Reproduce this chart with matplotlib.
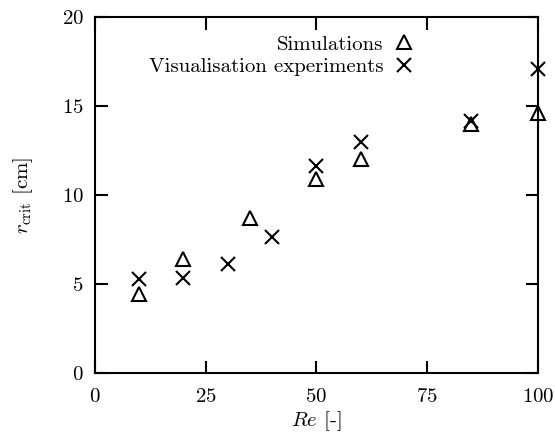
import matplotlib
matplotlib.use("Agg")
import matplotlib.pyplot as plt

re_sim = [10, 20, 35, 50, 60, 85, 100]
r_sim = [4.4, 6.4, 8.7, 10.9, 12.0, 14.0, 14.6]
re_exp = [10, 20, 30, 40, 50, 60, 85, 100]
r_exp = [5.25, 5.35, 6.1, 7.65, 11.6, 13.0, 14.15, 17.1]
xticks = [0, 25, 50, 75, 100]
yticks = [0, 5, 10, 15, 20]

plt.rcParams['font.family'] = ['cmr10', 'DejaVu Serif']
plt.rcParams['mathtext.fontset'] = 'cm'
plt.rcParams['axes.formatter.use_mathtext'] = True
plt.rcParams['font.size'] = 15

fig = plt.figure(figsize=(5.55, 4.4), dpi=100)
ax = fig.add_axes([0.171, 0.153, 0.798, 0.808])

ax.plot(re_sim, r_sim, linestyle='none', marker='^', markersize=10,
        markerfacecolor='none', markeredgecolor='black', markeredgewidth=1.5,
        label='Simulations', clip_on=False)
ax.plot(re_exp, r_exp, linestyle='none', marker='x', markersize=10,
        color='black', markeredgewidth=1.5,
        label='Visualisation experiments', clip_on=False)

ax.set_xlim(0, 100)
ax.set_ylim(0, 20)
ax.set_xticks(xticks)
ax.set_yticks(yticks)
ax.tick_params(direction='in', length=9, width=1.5, top=True, right=True,
               labelsize=15)
ax.tick_params(axis='x', pad=11)
ax.tick_params(axis='y', pad=8)
for s in ax.spines.values():
    s.set_linewidth(1.5)

ax.set_xlabel(r'$Re$ [-]', fontsize=15, labelpad=2)
ax.set_ylabel(r'$r_{\rm crit}$ [cm]', fontsize=15, labelpad=19)

ax.legend(loc='upper right', bbox_to_anchor=(0.75, 0.985), frameon=False,
          markerfirst=False, handlelength=1.0, handletextpad=0.5,
          labelspacing=0.2, fontsize=15, borderaxespad=0.2)

fig.savefig('out.png', dpi=100)
